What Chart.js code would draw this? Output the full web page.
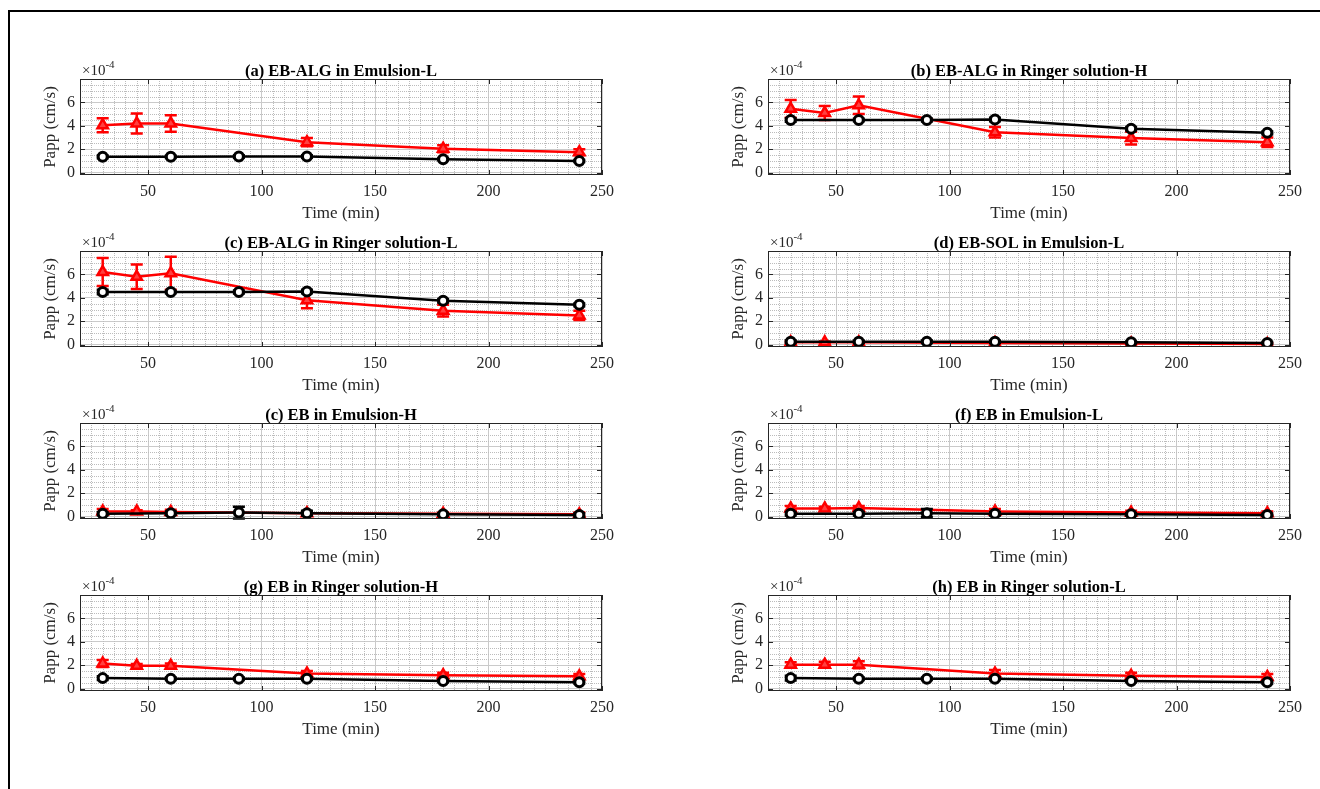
<!DOCTYPE html>
<html>
<head>
<meta charset="utf-8">
<title>Papp vs time</title>
<script src="https://cdn.jsdelivr.net/npm/chart.js@4.4.1/dist/chart.umd.min.js"></script>
<style>
  html, body { margin: 0; padding: 0; background: #fff; overflow: hidden; }
  body { width: 1320px; height: 789px; position: relative; }
  #frame { position: absolute; left: 8px; top: 10px; width: 1400px; height: 900px;
           border-left: 2px solid #000; border-top: 2px solid #000; }
  canvas { position: absolute; }
</style>
</head>
<body>
<div id="frame"></div>
<script>
// sampling times (min)
const timeBlack = [30, 60, 90, 120, 180, 240];
const timeRed = [30, 45, 60, 120, 180, 240];

const panelTitles = [
  "(a) EB-ALG in Emulsion-L",
  "(b) EB-ALG in Ringer solution-H",
  "(c) EB-ALG in Ringer solution-L",
  "(d) EB-SOL in Emulsion-L",
  "(c) EB in Emulsion-H",
  "(f) EB in Emulsion-L",
  "(g) EB in Ringer solution-H",
  "(h) EB in Ringer solution-L"
];

// Papp values in units of 1e-4 cm/s, one row per panel
const blackMean = [
  [1.35, 1.35, 1.38, 1.38, 1.15, 1.0],
  [4.5, 4.5, 4.5, 4.55, 3.75, 3.4],
  [4.5, 4.5, 4.5, 4.55, 3.75, 3.4],
  [0.25, 0.25, 0.25, 0.25, 0.2, 0.15],
  [0.25, 0.3, 0.35, 0.3, 0.2, 0.15],
  [0.25, 0.25, 0.3, 0.25, 0.2, 0.15],
  [0.9, 0.85, 0.85, 0.85, 0.65, 0.55],
  [0.9, 0.85, 0.85, 0.85, 0.65, 0.55]
];
const blackErr = [
  [0.12, 0.1, 0.1, 0.1, 0.1, 0.08],
  [0.15, 0.1, 0.12, 0.15, 0.15, 0.12],
  [0.2, 0.1, 0.12, 0.15, 0.15, 0.12],
  [0.1, 0.08, 0.1, 0.08, 0.08, 0.08],
  [0.12, 0.15, 0.5, 0.2, 0.1, 0.15],
  [0.15, 0.15, 0.35, 0.15, 0.1, 0.1],
  [0.15, 0.1, 0.1, 0.1, 0.1, 0.1],
  [0.2, 0.1, 0.1, 0.1, 0.1, 0.1]
];
const redMean = [
  [4.05, 4.2, 4.2, 2.6, 2.05, 1.75],
  [5.45, 5.1, 5.75, 3.45, 2.95, 2.6],
  [6.2, 5.8, 6.1, 3.8, 2.9, 2.5],
  [0.2, 0.2, 0.2, 0.15, 0.1, 0.05],
  [0.45, 0.45, 0.4, 0.3, 0.25, 0.2],
  [0.7, 0.7, 0.75, 0.45, 0.35, 0.3],
  [2.15, 1.95, 1.95, 1.3, 1.15, 1.05],
  [2.05, 2.05, 2.05, 1.3, 1.1, 1.0]
];
const redErr = [
  [0.6, 0.85, 0.7, 0.35, 0.3, 0.25],
  [0.75, 0.6, 0.75, 0.45, 0.55, 0.4],
  [1.2, 1.05, 1.4, 0.7, 0.5, 0.4],
  [0.1, 0.08, 0.1, 0.08, 0.08, 0.08],
  [0.2, 0.1, 0.2, 0.15, 0.1, 0.15],
  [0.2, 0.15, 0.15, 0.2, 0.15, 0.15],
  [0.3, 0.15, 0.2, 0.2, 0.2, 0.2],
  [0.2, 0.25, 0.3, 0.3, 0.25, 0.25]
];

const xTicks = [50, 100, 150, 200, 250];
const yTicks = [0, 2, 4, 6];
const xRange = [20, 250];
const yRange = [-0.2, 8];

const FONT = "'Liberation Serif', 'Times New Roman', serif";
const INK = "#262626";

// plot-area geometry on the page
const colLeft = [80, 768];
const firstTop = 79;
const rowStep = 172;
const plotW = 522;
const plotH = 96;

const panelDecor = {
  id: "panelDecor",
  beforeDatasetsDraw(chart) {
    // MATLAB style minor grid
    const { ctx, chartArea: a, scales } = chart;
    ctx.save();
    ctx.beginPath();
    ctx.rect(a.left, a.top, a.right - a.left, a.bottom - a.top);
    ctx.clip();
    ctx.strokeStyle = "#bcbcbc";
    ctx.lineWidth = 1;
    ctx.setLineDash([1, 1]);
    for (let v = xRange[0]; v <= xRange[1]; v += 5) {
      if (v % 50 === 0) continue;
      const px = Math.round(scales.x.getPixelForValue(v)) + 0.5;
      ctx.beginPath(); ctx.moveTo(px, a.top); ctx.lineTo(px, a.bottom); ctx.stroke();
    }
    for (let v = 0; v <= yRange[1]; v += 0.5) {
      if (v % 2 === 0) continue;
      const py = Math.round(scales.y.getPixelForValue(v)) + 0.5;
      ctx.beginPath(); ctx.moveTo(a.left, py); ctx.lineTo(a.right, py); ctx.stroke();
    }
    ctx.restore();
  },
  beforeDatasetDraw(chart, args) {
    // error bars under each series' line and markers
    const ds = chart.data.datasets[args.index];
    const { ctx, scales } = chart;
    ctx.save();
    ctx.strokeStyle = ds.borderColor;
    ctx.lineWidth = 2.5;
    ds.data.forEach((p, j) => {
      const e = ds.errors[j];
      const px = scales.x.getPixelForValue(p.x);
      const y1 = scales.y.getPixelForValue(p.y - e);
      const y2 = scales.y.getPixelForValue(p.y + e);
      ctx.beginPath();
      ctx.moveTo(px, y1); ctx.lineTo(px, y2);
      ctx.moveTo(px - 6, y1); ctx.lineTo(px + 6, y1);
      ctx.moveTo(px - 6, y2); ctx.lineTo(px + 6, y2);
      ctx.stroke();
    });
    ctx.restore();
  },
  afterDraw(chart, args, opts) {
    const { ctx, chartArea: a, scales } = chart;
    ctx.save();
    ctx.strokeStyle = INK;
    ctx.lineWidth = 1;
    ctx.strokeRect(a.left + 0.5, a.top + 0.5, a.right - a.left - 1, a.bottom - a.top - 1);
    // inward tick marks on all four sides
    ctx.beginPath();
    xTicks.forEach(v => {
      const px = Math.round(scales.x.getPixelForValue(v)) + 0.5;
      ctx.moveTo(px, a.bottom); ctx.lineTo(px, a.bottom - 5);
      ctx.moveTo(px, a.top); ctx.lineTo(px, a.top + 5);
    });
    yTicks.forEach(v => {
      const py = Math.round(scales.y.getPixelForValue(v)) + 0.5;
      ctx.moveTo(a.left, py); ctx.lineTo(a.left + 5, py);
      ctx.moveTo(a.right, py); ctx.lineTo(a.right - 5, py);
    });
    ctx.stroke();

    ctx.fillStyle = "#000";
    ctx.textBaseline = "alphabetic";
    ctx.textAlign = "center";
    ctx.font = "bold 16.5px " + FONT;
    ctx.fillText(opts.title, (a.left + a.right) / 2, a.top - 3);

    ctx.fillStyle = INK;
    ctx.textAlign = "left";
    ctx.font = "15px " + FONT;
    const base = "\u00d710";
    ctx.fillText(base, a.left + 2, a.top - 4);
    const w = ctx.measureText(base).width;
    ctx.font = "11px " + FONT;
    ctx.fillText("-4", a.left + 2 + w, a.top - 11);
    ctx.restore();
  }
};

function makePanel(i) {
  const col = i % 2;
  const row = Math.floor(i / 2);
  const left = colLeft[col] - 75;
  const top = firstTop + row * rowStep - 30;

  const canvas = document.createElement("canvas");
  canvas.width = plotW + 75 + 25;
  canvas.height = 30 + plotH + 53;
  canvas.style.left = left + "px";
  canvas.style.top = top + "px";
  document.body.appendChild(canvas);

  new Chart(canvas.getContext("2d"), {
    type: "line",
    data: {
      datasets: [
        {
          label: "Group 1",
          data: timeBlack.map((t, j) => ({ x: t, y: blackMean[i][j] })),
          errors: blackErr[i],
          borderColor: "#000000",
          backgroundColor: "#ffffff",
          borderWidth: 2.5,
          pointStyle: "circle",
          pointRadius: 4.5,
          pointBorderWidth: 3,
          pointBackgroundColor: "#ffffff",
          tension: 0
        },
        {
          label: "Group 2",
          data: timeRed.map((t, j) => ({ x: t, y: redMean[i][j] })),
          errors: redErr[i],
          borderColor: "#ff0000",
          backgroundColor: "#ff0000",
          borderWidth: 2.5,
          pointStyle: "triangle",
          pointRadius: 6,
          pointBorderWidth: 2.5,
          pointBackgroundColor: "#ff4040",
          tension: 0
        }
      ]
    },
    options: {
      responsive: false,
      animation: false,
      devicePixelRatio: 1,
      layout: { padding: { left: 33, top: 30, right: 25, bottom: 0 } },
      plugins: {
        legend: { display: false },
        tooltip: { enabled: false },
        panelDecor: { title: panelTitles[i] }
      },
      scales: {
        x: {
          type: "linear",
          min: xRange[0],
          max: xRange[1],
          afterBuildTicks: s => { s.ticks = xTicks.map(v => ({ value: v })); },
          afterFit: s => { s.height = 53; },
          grid: { color: "#cacaca", drawTicks: false },
          border: { display: false },
          ticks: { color: INK, font: { family: FONT, size: 16 }, padding: 7, maxRotation: 0, autoSkip: false },
          title: { display: true, text: "Time (min)", color: INK, font: { family: FONT, size: 17 }, padding: { top: 0, bottom: 4 } }
        },
        y: {
          min: yRange[0],
          max: yRange[1],
          afterBuildTicks: s => { s.ticks = yTicks.map(v => ({ value: v })); },
          afterFit: s => { s.width = 42; },
          grid: { color: "#cacaca", drawTicks: false },
          border: { display: false },
          ticks: { color: INK, font: { family: FONT, size: 16 }, padding: 5 },
          title: { display: true, text: "Papp (cm/s)", color: INK, font: { family: FONT, size: 17 }, padding: 2 }
        }
      }
    },
    plugins: [panelDecor]
  });
}

for (let i = 0; i < panelTitles.length; i++) makePanel(i);
</script>
</body>
</html>
